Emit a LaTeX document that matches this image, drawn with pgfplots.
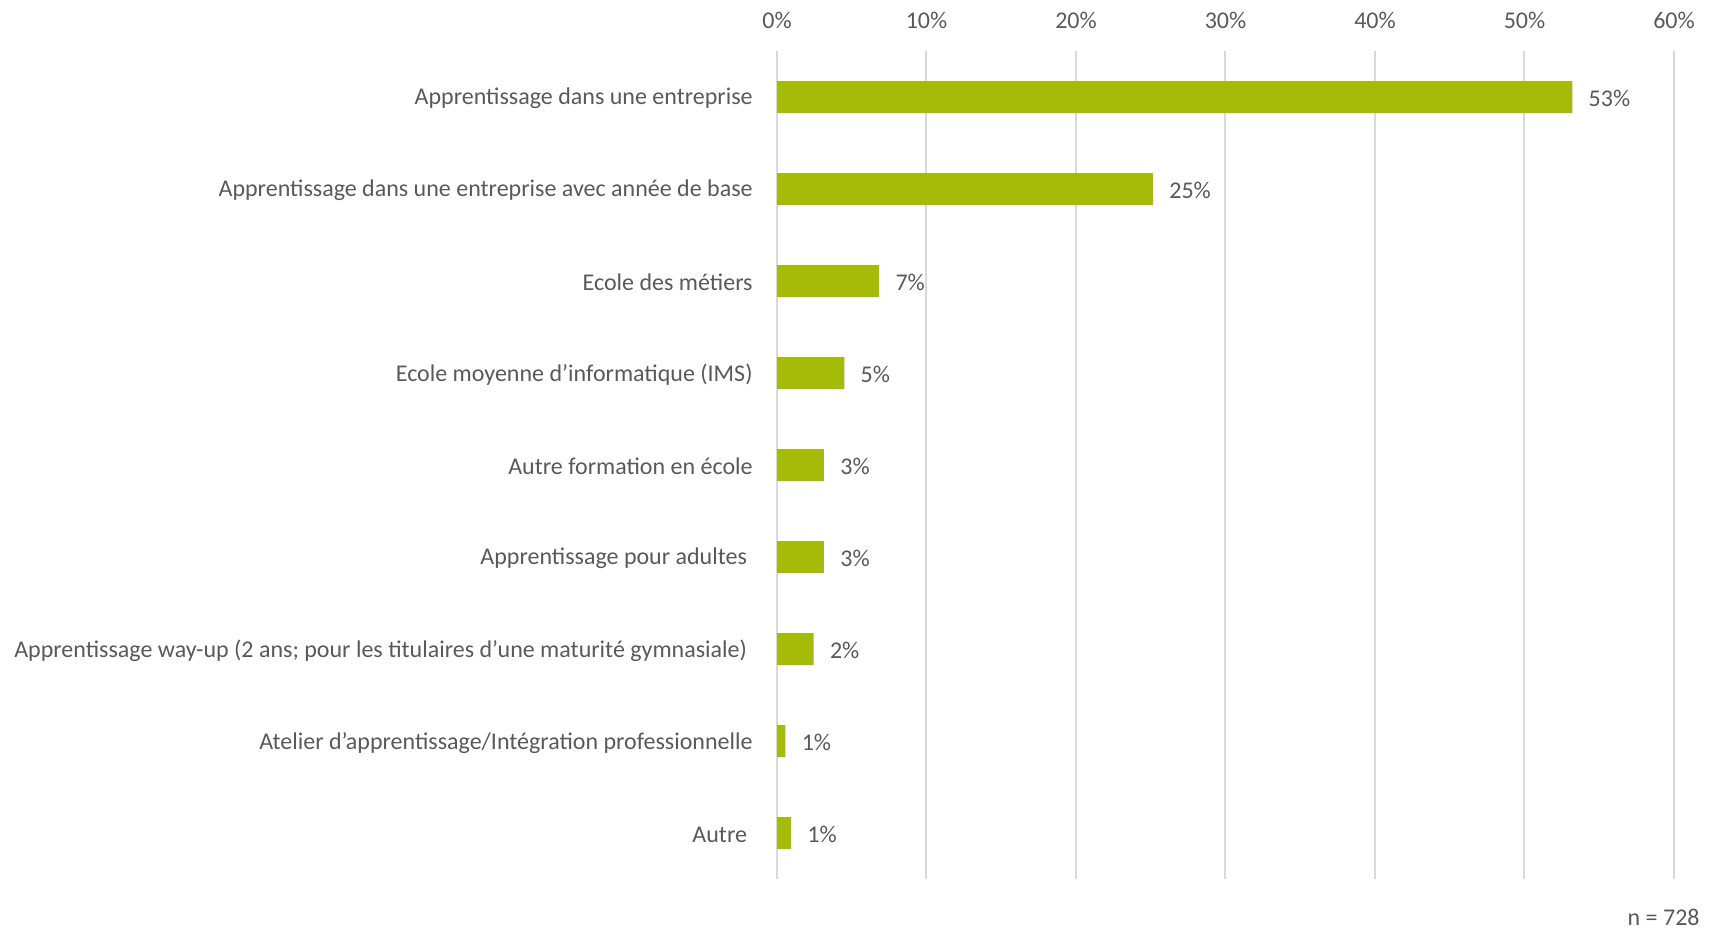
\documentclass[border=0pt]{standalone}
\usepackage{pgfplots}
\pgfplotsset{compat=1.18}
\usepackage{fontspec}
\setmainfont{Carlito}
\definecolor{barc}{RGB}{164,188,8}
\definecolor{txt}{RGB}{89,89,89}
\definecolor{grd}{RGB}{217,217,217}
\begin{document}
\fontsize{12bp}{14bp}\selectfont
\begin{tikzpicture}
\path[use as bounding box] (0,0) rectangle (858.5bp,464.5bp);
\begin{axis}[
  at={(388.5bp,25bp)}, anchor=south west,
  scale only axis, width=448.5bp, height=414bp,
  xmin=0, xmax=60, ymin=-0.5, ymax=8.5,
  xbar, bar width=16bp,
  axis line style={draw=none},
  major tick length=0pt,
  xtick={0,10,...,60},
  xticklabel pos=right,
  xticklabel={\pgfmathprintnumber{\tick}\%},
  /pgf/number format/assume math mode=true,
  xticklabel style={font=\fontsize{12bp}{14bp}\selectfont, text=txt, inner sep=0pt, anchor=south, yshift=11bp},
  xmajorgrids, grid style={grd, line width=1bp},
  ytick={0,...,8},
  yticklabels={Autre\hspace*{2.8bp}\null,
    Atelier d’apprentissage/Intégration professionnelle,
    Apprentissage way-up (2 ans; pour les titulaires d’une maturité gymnasiale)\hspace*{2.8bp}\null,
    Apprentissage pour adultes\hspace*{2.8bp}\null,
    Autre formation en école,
    Ecole moyenne d’informatique (IMS),
    Ecole des métiers,
    Apprentissage dans une entreprise avec année de base,
    Apprentissage dans une entreprise},
  yticklabel style={font=\fontsize{12bp}{14bp}\selectfont, text=txt, inner sep=0pt, anchor=east, xshift=-12bp, yshift=-0.8bp},
  nodes near coords={\pgfmathprintnumber{\pgfplotspointmeta}\%},
  point meta=explicit,
  nodes near coords style={font=\fontsize{12bp}{14bp}\selectfont, text=txt, anchor=west, inner sep=0pt, xshift=8bp, yshift=-0.6bp, /pgf/number format/assume math mode=true},
]
\addplot[fill=barc, draw=none] table[x=v, y=y, meta=m] {
v     y  m
0.94  0  1
0.56  1  1
2.45  2  2
3.14  3  3
3.14  4  3
4.50  5  5
6.83  6  7
25.15 7  25
53.2  8  53
};
\end{axis}
\node[anchor=east, inner sep=0pt, text=txt, font=\fontsize{12bp}{14bp}\selectfont] at (850bp,6bp) {n = 728};
\end{tikzpicture}
\end{document}
